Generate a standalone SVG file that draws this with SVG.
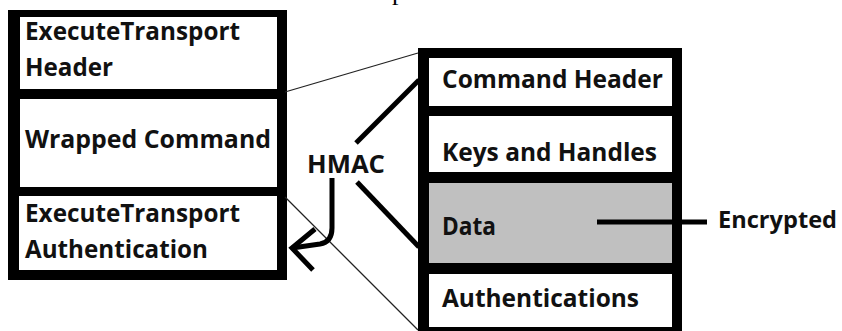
<svg xmlns="http://www.w3.org/2000/svg" width="842" height="331" viewBox="0 0 842 331">
<style>
.t{font-family:"Open Sans","Liberation Sans",sans-serif;font-weight:700;font-size:25px;fill:#111}
.thin{stroke:#222;stroke-width:1.3;fill:none}
.thick{stroke:#000;stroke-width:5;fill:none;stroke-linecap:butt}
.w{fill:#fff}
</style>
<rect width="842" height="331" fill="#fff"/>
<text x="392" y="0" font-family="Liberation Serif, serif" font-size="26" fill="#000">p</text>
<g id="left-block">
<rect x="8" y="10" width="279" height="270" fill="#000"/>
<g id="et-header"><rect class="w" x="20" y="17" width="257" height="72"/>
<text class="t" x="25" y="40" textLength="215" lengthAdjust="spacingAndGlyphs">ExecuteTransport</text>
<text class="t" x="25" y="76" textLength="88" lengthAdjust="spacingAndGlyphs">Header</text></g>
<g id="wrapped-command"><rect class="w" x="20" y="99" width="257" height="88"/>
<text class="t" x="25" y="148" textLength="246" lengthAdjust="spacingAndGlyphs">Wrapped Command</text></g>
<g id="et-auth"><rect class="w" x="19" y="196" width="258" height="74"/>
<text class="t" x="25" y="222" textLength="215" lengthAdjust="spacingAndGlyphs">ExecuteTransport</text>
<text class="t" x="25" y="258" textLength="183" lengthAdjust="spacingAndGlyphs">Authentication</text></g>
</g>
<g id="right-block">
<rect x="418" y="48" width="264" height="290" fill="#000"/>
<g id="command-header"><rect class="w" x="429" y="58" width="243" height="48"/>
<text class="t" x="442" y="88" textLength="221" lengthAdjust="spacingAndGlyphs">Command Header</text></g>
<g id="keys-handles"><rect class="w" x="429" y="116" width="243" height="56"/>
<text class="t" x="442" y="161" textLength="215" lengthAdjust="spacingAndGlyphs">Keys and Handles</text></g>
<g id="data"><rect x="429" y="183" width="243" height="80" fill="#c0c0c0"/>
<text class="t" x="442" y="235" textLength="54" lengthAdjust="spacingAndGlyphs">Data</text></g>
<g id="authentications"><rect class="w" x="429" y="274" width="243" height="53"/>
<text class="t" x="442" y="307" textLength="197" lengthAdjust="spacingAndGlyphs">Authentications</text></g>
</g>
<g id="hmac"><text class="t" x="307" y="173" textLength="78" lengthAdjust="spacingAndGlyphs">HMAC</text></g>
<g id="encrypted"><text class="t" x="718" y="228" style="font-size:23px" textLength="119" lengthAdjust="spacingAndGlyphs">Encrypted</text></g>
<g id="connectors">
<line class="thin" x1="285" y1="92" x2="418" y2="53"/>
<line class="thin" x1="285" y1="197" x2="418" y2="330"/>
<line class="thick" x1="356" y1="143" x2="419" y2="80"/>
<line class="thick" x1="357" y1="182" x2="419" y2="247"/>
<path class="thick" d="M332 178 V228 Q332 242 320 244 L292 248"/>
<path class="thick" d="M315 229 L292 248 L313 270"/>
<line class="thick" x1="597" y1="222" x2="707" y2="222"/>
</g>
</svg>
